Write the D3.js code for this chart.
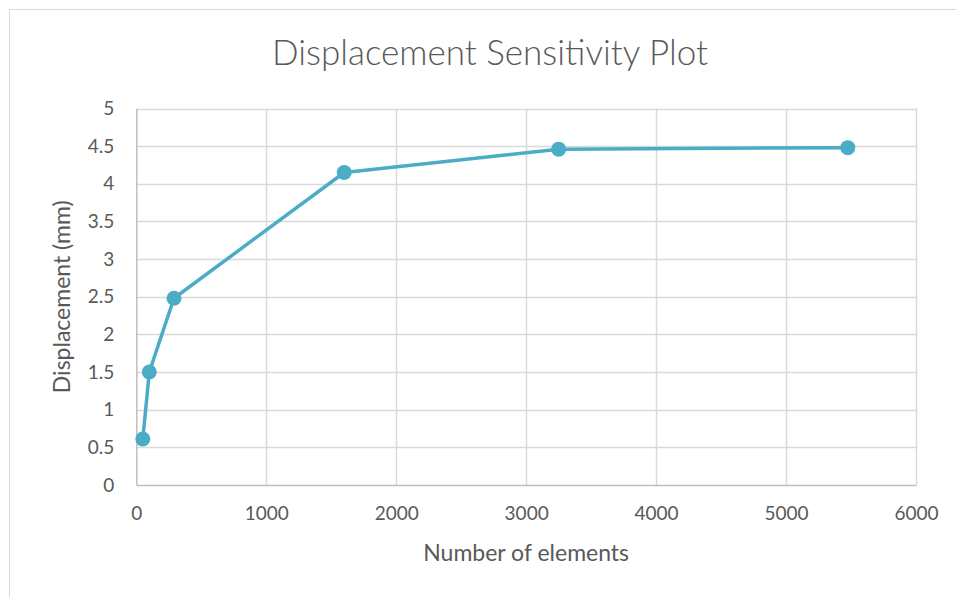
<!DOCTYPE html>
<html>
<head>
<meta charset="utf-8">
<script src="https://cdn.jsdelivr.net/npm/d3@7"></script>
<style>
  html, body { margin: 0; padding: 0; background: #fff; }
  svg { display: block; }
  text { font-family: Lato, "Open Sans", sans-serif; fill: #595959; }
</style>
</head>
<body>
<svg id="chart" width="956" height="597"></svg>
<script>
// Mesh sensitivity study: number of elements vs. displacement
const elements = [50, 100, 290, 1600, 3250, 5475];
const displacement = [0.61, 1.5, 2.48, 4.15, 4.46, 4.48];
const xTicks = [0, 1000, 2000, 3000, 4000, 5000, 6000];
const yTicks = [0, 0.5, 1, 1.5, 2, 2.5, 3, 3.5, 4, 4.5, 5];

const titleText = "Displacement Sensitivity Plot";
const xTitle = "Number of elements";
const yTitle = "Displacement (mm)";

const svg = d3.select("#chart");
const W = 956, H = 597;
const plot = { left: 136.3, right: 916, top: 108.5, bottom: 485 };

// chart frame
svg.append("rect")
  .attr("x", 9.5).attr("y", 9.5)
  .attr("width", W + 20).attr("height", H + 20)
  .attr("fill", "#fff").attr("stroke", "#D9D9D9").attr("stroke-width", 1);

const x = d3.scaleLinear().domain([0, 6000]).range([plot.left, plot.right]);
const y = d3.scaleLinear().domain([0, 5]).range([plot.bottom, plot.top]);

// gridlines
svg.append("g")
  .selectAll("line.h").data(yTicks.filter(d => d > 0)).join("line")
  .attr("x1", plot.left).attr("x2", plot.right)
  .attr("y1", d => Math.round(y(d)) + 0.5).attr("y2", d => Math.round(y(d)) + 0.5)
  .attr("stroke", "#D9D9D9").attr("stroke-width", 1.5);
svg.append("g")
  .selectAll("line.v").data(xTicks.filter(d => d > 0)).join("line")
  .attr("y1", plot.top).attr("y2", plot.bottom)
  .attr("x1", d => Math.round(x(d)) + 0.5).attr("x2", d => Math.round(x(d)) + 0.5)
  .attr("stroke", "#D9D9D9").attr("stroke-width", 1.5);

// axes
const xAxis = d3.axisBottom(x).tickValues(xTicks).tickSize(0).tickPadding(22)
  .tickFormat(d3.format("d"));
const gx = svg.append("g").attr("transform", `translate(0,${plot.bottom})`).call(xAxis);
gx.select(".domain").attr("stroke", "#BFBFBF").attr("stroke-width", 1.5);
gx.selectAll("text").style("font-size", "19px").attr("fill", "#595959");

const yAxis = d3.axisLeft(y).tickValues(yTicks).tickSize(0).tickPadding(22)
  .tickFormat(d => String(d));
const gy = svg.append("g").attr("transform", `translate(${plot.left},0)`).call(yAxis);
gy.select(".domain").attr("stroke", "#BFBFBF").attr("stroke-width", 1.5);
gy.selectAll("text").style("font-size", "19px").attr("fill", "#595959");

// series
const pts = elements.map((e, i) => [e, displacement[i]]);
svg.append("path")
  .datum(pts)
  .attr("fill", "none")
  .attr("stroke", "#4BACC6")
  .attr("stroke-width", 3.5)
  .attr("stroke-linejoin", "round")
  .attr("d", d3.line().x(d => x(d[0])).y(d => y(d[1])));
svg.append("g").selectAll("circle").data(pts).join("circle")
  .attr("cx", d => x(d[0])).attr("cy", d => y(d[1])).attr("r", 7.5)
  .attr("fill", "#4BACC6");

// titles
svg.append("text").attr("x", 490).attr("y", 65).attr("text-anchor", "middle")
  .style("font-size", "35px").style("font-weight", 300).text(titleText);
svg.append("text").attr("x", (plot.left + plot.right) / 2).attr("y", 561)
  .attr("text-anchor", "middle").style("font-size", "23px").text(xTitle);
svg.append("text")
  .attr("transform", `translate(70,${(plot.top + plot.bottom) / 2}) rotate(-90)`)
  .attr("text-anchor", "middle").style("font-size", "23px").text(yTitle);
</script>
</body>
</html>
